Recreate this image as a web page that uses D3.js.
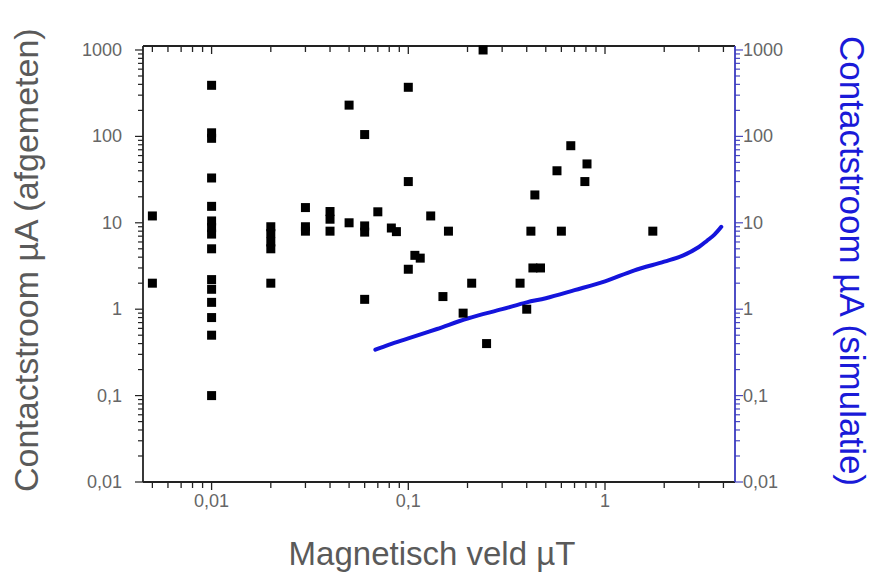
<!DOCTYPE html>
<html>
<head>
<meta charset="utf-8">
<script src="https://cdn.jsdelivr.net/npm/d3@7"></script>
<style>
  html, body { margin: 0; padding: 0; background: #fff; }
  svg { display: block; font-family: Arial, "Liberation Sans", sans-serif; }
</style>
</head>
<body>
<svg id="chart" width="871" height="573"></svg>
<script>
// gemeten punten (x = magnetisch veld in µT, y = contactstroom in µA)
const measX = [
  0.005, 0.005,
  0.01, 0.01, 0.01, 0.01, 0.01, 0.01, 0.01, 0.01, 0.01, 0.01, 0.01, 0.01, 0.01, 0.01, 0.01,
  0.02, 0.02, 0.02, 0.02, 0.02,
  0.03, 0.03, 0.03,
  0.04, 0.04, 0.04,
  0.05, 0.05,
  0.06, 0.06, 0.06, 0.06,
  0.07, 0.082, 0.087,
  0.1, 0.1, 0.1, 0.108, 0.115,
  0.13, 0.15, 0.16, 0.19, 0.21, 0.24, 0.25,
  0.37, 0.4, 0.42, 0.43, 0.47, 0.44,
  0.57, 0.6, 0.67, 0.79, 0.81, 1.75
]
const measY = [
  12, 2,
  390, 110, 95, 33, 15.5, 10.5, 8.8, 7.4, 5, 2.2, 1.7, 1.2, 0.8, 0.5, 0.1,
  9, 7.5, 6, 5, 2,
  15, 9, 8,
  13.5, 11, 8,
  230, 10,
  105, 9.2, 7.8, 1.3,
  13.4, 8.7, 7.9,
  370, 30, 2.9, 4.2, 3.9,
  12, 1.4, 8, 0.9, 2, 1000, 0.4,
  2, 1.0, 8, 3, 3, 21,
  40, 8, 78, 30, 48, 8
]

// simulatie
const simX = [0.068, 0.08, 0.1, 0.14, 0.2, 0.3, 0.4, 0.5, 0.7, 1.0, 1.4, 2.0, 2.5, 3.0, 3.3, 3.6, 3.9]
const simY = [0.34, 0.39, 0.46, 0.59, 0.78, 1.0, 1.2, 1.34, 1.66, 2.1, 2.8, 3.55, 4.2, 5.25, 6.2, 7.3, 9.0]

const xMajor = [0.01, 0.1, 1]
const yMajor = [0.01, 0.1, 1, 10, 100, 1000]
const fmt = d => String(d).replace('.', ',')

const margin = { left: 143, right: 735, top: 46, bottom: 482 }

const svg = d3.select('#chart')

const x = d3.scaleLog()
  .domain([0.00448, 4.58])
  .range([margin.left, margin.right])

const y = d3.scaleLog()
  .domain([0.01, 1112])
  .range([margin.bottom, margin.top])

const isMajor = v => Math.abs(Math.log10(v) - Math.round(Math.log10(v))) < 1e-6
const xMinor = x.ticks().filter(v => !isMajor(v))
const yMinor = y.ticks().filter(v => !isMajor(v))

const tickG = svg.append('g')

// onder: ticks naar buiten, boven: naar binnen
function xTicks(vals, len) {
  tickG.selectAll(null).data(vals).enter().append('line')
    .attr('x1', d => x(d)).attr('x2', d => x(d))
    .attr('y1', margin.bottom).attr('y2', margin.bottom + len)
    .attr('stroke', '#222').attr('stroke-width', 1.3)
  tickG.selectAll(null).data(vals).enter().append('line')
    .attr('x1', d => x(d)).attr('x2', d => x(d))
    .attr('y1', margin.top).attr('y2', margin.top + len)
    .attr('stroke', '#222').attr('stroke-width', 1.3)
}
xTicks(xMajor, 8)
xTicks(xMinor, 6)

function yTicks(vals, len) {
  tickG.selectAll(null).data(vals).enter().append('line')
    .attr('x1', margin.left - len).attr('x2', margin.left)
    .attr('y1', d => y(d)).attr('y2', d => y(d))
    .attr('stroke', '#222').attr('stroke-width', 1.2)
  tickG.selectAll(null).data(vals).enter().append('line')
    .attr('x1', margin.right).attr('x2', margin.right + len)
    .attr('y1', d => y(d)).attr('y2', d => y(d))
    .attr('stroke', '#4848c0').attr('stroke-width', 1.2)
}
yTicks(yMajor, 8)
yTicks(yMinor, 5)

// kader
svg.append('line')
  .attr('x1', margin.left).attr('x2', margin.right)
  .attr('y1', margin.top).attr('y2', margin.top)
  .attr('stroke', '#222').attr('stroke-width', 1.8)
svg.append('line')
  .attr('x1', margin.left).attr('x2', margin.right)
  .attr('y1', margin.bottom).attr('y2', margin.bottom)
  .attr('stroke', '#222').attr('stroke-width', 1.8)
svg.append('line')
  .attr('x1', margin.left).attr('x2', margin.left)
  .attr('y1', margin.top).attr('y2', margin.bottom)
  .attr('stroke', '#222').attr('stroke-width', 1.8)
svg.append('line')
  .attr('x1', margin.right).attr('x2', margin.right)
  .attr('y1', margin.top).attr('y2', margin.bottom)
  .attr('stroke', '#3a3ac0').attr('stroke-width', 1.8)

// tick labels
svg.append('g').selectAll('text').data(xMajor).enter().append('text')
  .attr('x', d => x(d)).attr('y', 507)
  .attr('text-anchor', 'middle')
  .attr('fill', '#666').style('font-size', '18px')
  .text(fmt)

svg.append('g').selectAll('text').data(yMajor).enter().append('text')
  .attr('x', 122).attr('y', d => y(d) + 6)
  .attr('text-anchor', 'end')
  .attr('fill', '#666').style('font-size', '18px')
  .text(fmt)

svg.append('g').selectAll('text').data(yMajor).enter().append('text')
  .attr('x', 743).attr('y', d => y(d) + 6)
  .attr('text-anchor', 'start')
  .attr('fill', '#666').style('font-size', '18px')
  .text(fmt)

// simulatie curve
const line = d3.line()
  .x((d, i) => x(simX[i]))
  .y((d, i) => y(simY[i]))
  .curve(d3.curveCatmullRom.alpha(0.5))

svg.append('path')
  .datum(simY)
  .attr('d', line)
  .attr('fill', 'none')
  .attr('stroke', '#1414dc')
  .attr('stroke-width', 4)
  .attr('stroke-linecap', 'round')

// gemeten punten
svg.append('g').selectAll('rect')
  .data(measX.map((v, i) => [v, measY[i]]))
  .enter()
  .append('rect')
  .attr('x', d => x(d[0]) - 4.5)
  .attr('y', d => y(d[1]) - 4.5)
  .attr('width', 9)
  .attr('height', 9)
  .attr('fill', '#000')

// astitels
svg.append('text')
  .attr('transform', 'translate(38,492) rotate(-90)')
  .attr('text-anchor', 'start')
  .attr('fill', '#5a5a5a')
  .style('font-size', '34px')
  .text('Contactstroom µA (afgemeten)')

svg.append('text')
  .attr('transform', 'translate(840,36) rotate(90)')
  .attr('text-anchor', 'start')
  .attr('fill', '#1a1ad8')
  .style('font-size', '35px')
  .text('Contactstroom µA (simulatie)')

svg.append('text')
  .attr('x', 432).attr('y', 565)
  .attr('text-anchor', 'middle')
  .attr('fill', '#5a5a5a')
  .style('font-size', '33px')
  .text('Magnetisch veld µT')
</script>
</body>
</html>
